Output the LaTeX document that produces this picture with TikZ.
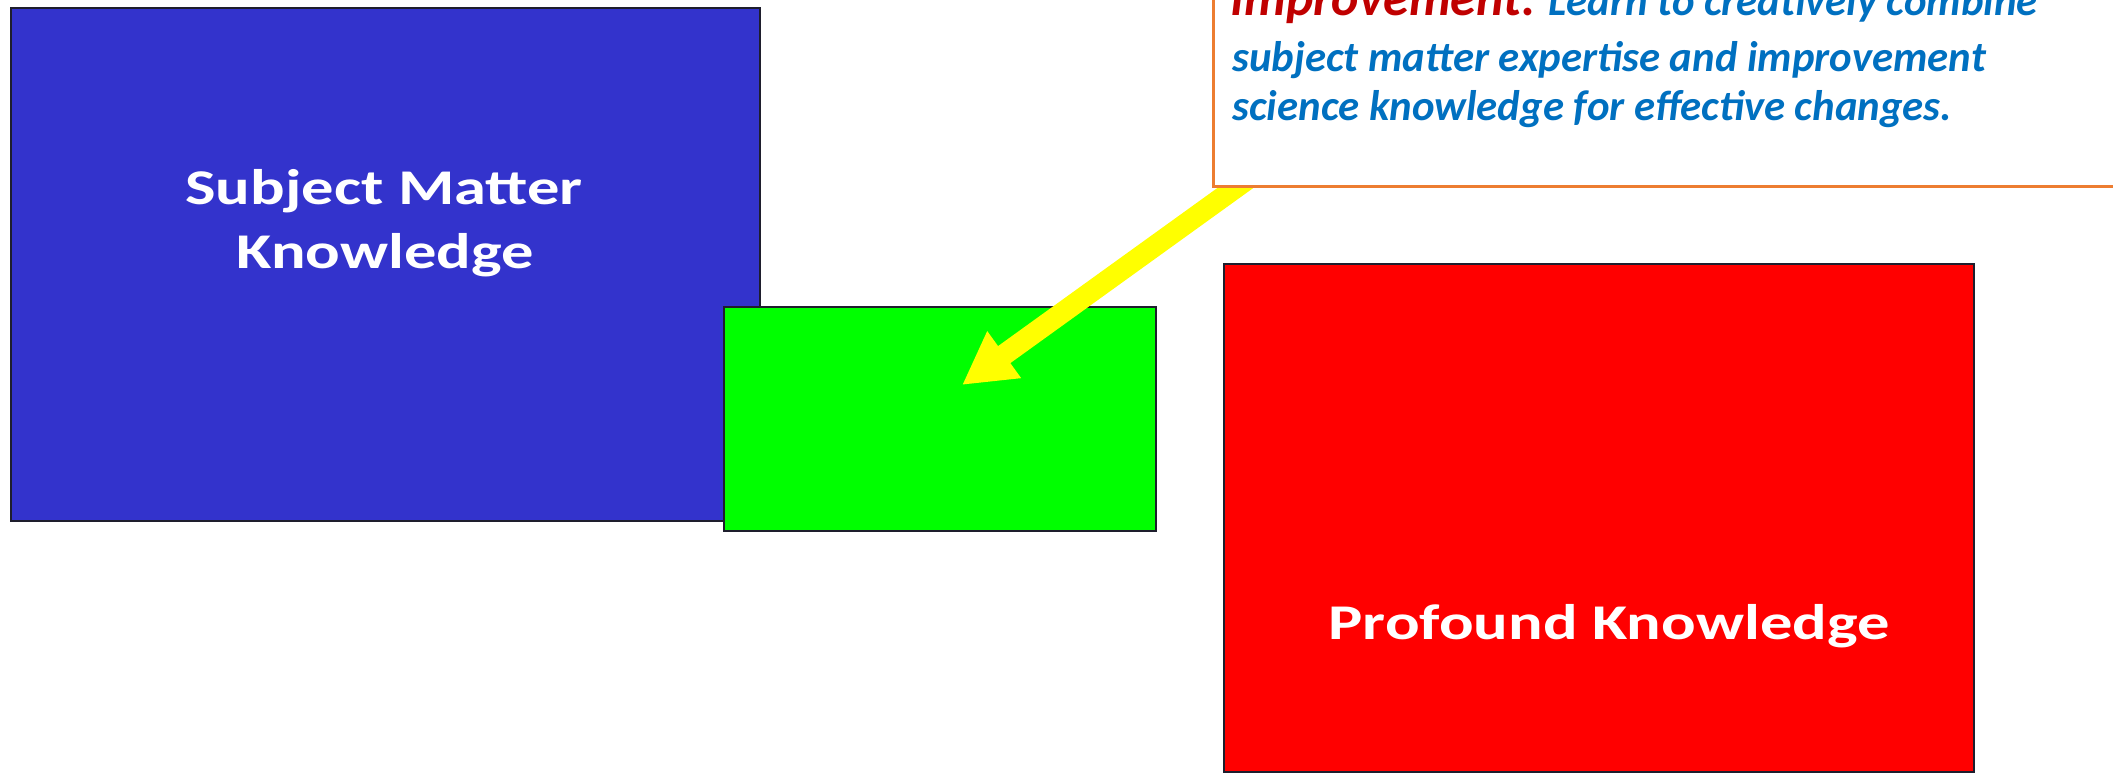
\documentclass[tikz,border=0pt]{standalone}
\usepackage{fontspec}
\setmainfont{Carlito}
\usepackage{graphicx}
\usetikzlibrary{arrows.meta}
\definecolor{boxblue}{RGB}{51,51,204}
\definecolor{boxgreen}{RGB}{0,255,0}
\definecolor{boxred}{RGB}{255,0,0}
\definecolor{edgedark}{RGB}{30,30,45}
\definecolor{noteorange}{RGB}{237,125,49}
\definecolor{notered}{RGB}{192,0,0}
\definecolor{noteblue}{RGB}{0,112,192}
\definecolor{arrowyellow}{RGB}{255,255,0}
\begin{document}
\begin{tikzpicture}[x=0.5pt,y=-0.5pt,
  panel/.style={draw=edgedark, line width=1pt, inner sep=0pt, outer sep=0pt},
  paneltext/.style={text=white, font=\fontsize{25}{30}\selectfont\bfseries, inner sep=0pt, anchor=base},
  notetext/.style={text=noteblue, font=\fontsize{21.4}{25}\selectfont\bfseries\itshape, inner sep=0pt, anchor=base west},
  pointer/.style={draw=arrowyellow, fill=arrowyellow, line width=10.5pt, -{Triangle[length=26pt,width=27pt]}}
]
\useasboundingbox (0,0) rectangle (2113,776);
\clip (0,0) rectangle (2113,776);
\fill[white] (0,0) rectangle (2113,776);
% Subject matter knowledge
\node[panel, fill=boxblue, minimum width=374.5pt, minimum height=256.5pt] (smk) at (385.5,264.5) {};
\node[paneltext] (smk1) at (384,204) {\scalebox{1.29}[1]{Subject Matter}};
\node[paneltext] (smk2) at (385,268) {\scalebox{1.29}[1]{Knowledge}};
% Profound knowledge
\node[panel, fill=boxred, minimum width=375pt, minimum height=254pt] (pk) at (1599,518) {};
\node[paneltext] (pk1) at (1609,639) {\scalebox{1.29}[1]{Profound Knowledge}};
% Overlap (green)
\node[panel, fill=boxgreen, minimum width=216pt, minimum height=112pt] (overlap) at (940,419) {};
% Arrow
\coordinate (from) at (1270,163);
\coordinate (tip) at (962,385);
\draw[pointer] (from) -- (tip);
% Note box
\node[draw=noteorange, line width=1.5pt, fill=white, minimum width=458.5pt, minimum height=118pt, inner sep=0pt] (note) at (1671.5,68) {};
\node[notetext] (n1) at (1230,16) {{\color{notered}\fontsize{26}{26}\selectfont Improvement:} Learn to creatively combine};
\node[notetext] (n2) at (1232,71) {subject matter expertise and improvement};
\node[notetext] (n3) at (1232,120) {science knowledge for effective changes.};
\end{tikzpicture}
\end{document}
